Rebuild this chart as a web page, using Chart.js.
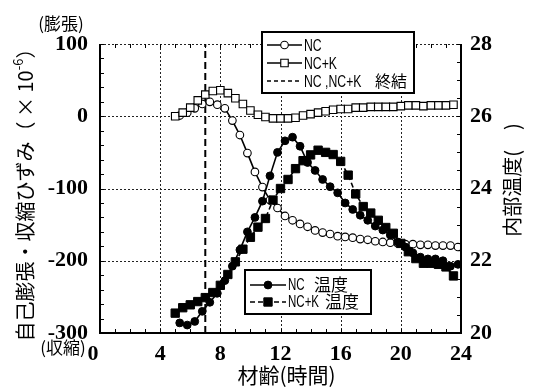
<!DOCTYPE html>
<html>
<head>
<meta charset="utf-8">
<script src="https://cdn.jsdelivr.net/npm/chart.js@4.4.1/dist/chart.umd.min.js"></script>
<style>
  html, body { margin: 0; padding: 0; background: #fff; }
  canvas { display: block; }
</style>
</head>
<body>
<canvas id="c" width="533" height="389"></canvas>
<script>
// Measurement times (hours) for each specimen
const ncTimes  = [5.3, 5.8, 6.3, 6.8, 7.3, 7.8, 8.3, 8.8, 9.3, 9.8, 10.3, 10.8, 11.3, 11.8, 12.3, 12.8,
                  13.3, 13.8, 14.3, 14.8, 15.3, 15.8, 16.3, 16.8, 17.3, 17.8, 18.3, 18.8, 19.3, 19.8,
                  20.3, 20.8, 21.3, 21.8, 22.3, 22.8, 23.3, 23.8];
const nckTimes = [5.0, 5.5, 6.0, 6.5, 7.0, 7.5, 8.0, 8.5, 9.0, 9.5, 10.0, 10.5, 11.0, 11.5, 12.0, 12.5,
                  13.0, 13.5, 14.0, 14.5, 15.0, 15.5, 16.0, 16.5, 17.0, 17.5, 18.0, 18.5, 19.0, 19.5,
                  20.0, 20.5, 21.0, 21.5, 22.0, 22.5, 23.0, 23.5];

// Autogenous expansion / shrinkage strain (x10^-6)
const ncStrain  = [1, 5, 11, 17, 20, 16, 11, -6, -26, -51, -77, -98, -116, -127, -138, -144,
                   -149, -153, -158, -161, -163, -166, -167, -168, -170, -171, -173, -174, -175, -176,
                   -177, -177, -178, -178, -179, -179, -179, -181];
const nckStrain = [0, 5, 12, 22, 30, 35, 36, 32, 25, 17, 8, 2, -1, -3, -3, -3,
                   -2, 1, 3, 5, 7, 9, 10, 10, 12, 12, 13, 13, 13, 13,
                   14, 15, 15, 14, 15, 15, 15, 16];

// Internal temperature (deg C)
const ncTemp  = [20.28, 20.22, 20.32, 20.60, 20.85, 21.10, 21.45, 21.85, 22.30, 22.80, 23.20, 23.65,
                 24.35, 25.00, 25.32, 25.42, 25.17, 24.72, 24.50, 24.25, 24.05, 23.88, 23.60, 23.42,
                 23.26, 23.12, 22.96, 22.85, 22.71, 22.52, 22.38, 22.22, 22.10, 22.05, 22.05, 22.00,
                 21.85, 21.90];
const nckTemp = [20.55, 20.70, 20.78, 20.87, 20.98, 21.12, 21.32, 21.62, 21.97, 22.32, 22.65, 22.93,
                 23.17, 23.68, 24.00, 24.25, 24.55, 24.77, 24.93, 25.06, 25.00, 24.94, 24.75, 24.37,
                 23.85, 23.50, 23.32, 23.12, 22.92, 22.76, 22.48, 22.25, 22.06, 21.93, 21.93, 21.90,
                 21.83, 21.58];

// End of setting (hours)
const settingEnd = [7];

// Axis ranges and labels
const xTickLabels   = [0, 4, 8, 12, 16, 20, 24];
const strainTicks   = [100, 0, -100, -200, -300];
const tempTicks     = [28, 26, 24, 22, 20];
const xGridValues   = [4, 8, 12, 16, 20];
const strainGridValues = [100, 0, -100, -200];

const FONT_NUM = '"Liberation Serif", "Times New Roman", serif';
const FONT_CJK = '"Noto Sans CJK JP", "Noto Sans", sans-serif';
const FONT_LEG = '"Liberation Sans", "Noto Sans CJK JP", sans-serif';

const toPoints = (xs, ys) => xs.map((t, i) => ({ x: t, y: ys[i] }));

const markerNC      = { pointStyle: 'circle', radius: 3.8, rotation: 0, borderWidth: 1.1 };
const markerNCK     = { pointStyle: 'rect',   radius: 5.3, rotation: 0, borderWidth: 1.1 };
const markerNCTemp  = { pointStyle: 'circle', radius: 3.9, rotation: 0, borderWidth: 1 };
const markerNCKTemp = { pointStyle: 'rect',   radius: 5.9, rotation: 0, borderWidth: 1 };

function sample(ctx, x1, x2, y, dash, marker, fill) {
  ctx.save();
  ctx.strokeStyle = '#000';
  ctx.lineWidth = 1.5;
  ctx.setLineDash(dash);
  ctx.beginPath();
  ctx.moveTo(x1, y);
  ctx.lineTo(x2, y);
  ctx.stroke();
  ctx.setLineDash([]);
  if (marker) {
    ctx.fillStyle = fill;
    ctx.lineWidth = marker.borderWidth;
    Chart.helpers.drawPoint(ctx, marker, (x1 + x2) / 2, y);
  }
  ctx.restore();
}

function box(ctx, x1, y1, x2, y2) {
  ctx.save();
  ctx.fillStyle = '#fff';
  ctx.fillRect(x1, y1, x2 - x1, y2 - y1);
  ctx.strokeStyle = '#000';
  ctx.lineWidth = 2;
  ctx.setLineDash([]);
  ctx.strokeRect(x1, y1, x2 - x1, y2 - y1);
  ctx.restore();
}

// condensed latin text for the legends
function narrowText(ctx, txt, x, y, sx) {
  ctx.save();
  ctx.translate(x, y);
  ctx.scale(sx, 1);
  ctx.textAlign = 'left';
  ctx.fillText(txt, 0, 0);
  ctx.restore();
}

const decor = {
  id: 'decor',
  beforeDatasetsDraw(chart) {
    const { ctx, chartArea: a, scales: { x, y } } = chart;
    ctx.save();
    ctx.strokeStyle = '#222';
    ctx.lineWidth = 1;
    ctx.setLineDash([2, 2]);
    ctx.beginPath();
    for (const v of xGridValues) {
      const px = Math.round(x.getPixelForValue(v)) + 0.5;
      ctx.moveTo(px, a.top);
      ctx.lineTo(px, a.bottom);
    }
    for (const v of strainGridValues) {
      const py = Math.round(y.getPixelForValue(v)) + 0.5;
      ctx.moveTo(a.left, py);
      ctx.lineTo(a.right, py);
    }
    ctx.stroke();
    ctx.restore();
  },
  afterDatasetsDraw(chart) {
    const { ctx, chartArea: a, scales: { x, y, y2 } } = chart;
    ctx.save();
    ctx.setLineDash([]);
    ctx.strokeStyle = '#000';

    // inward minor ticks
    ctx.lineWidth = 1;
    ctx.beginPath();
    for (let h = x.min; h <= x.max; h += 1) {
      const px = Math.round(x.getPixelForValue(h)) + 0.5;
      ctx.moveTo(px, a.bottom); ctx.lineTo(px, a.bottom - 4);
      ctx.moveTo(px, a.top);    ctx.lineTo(px, a.top + 4);
    }
    for (let v = y.min; v <= y.max; v += 20) {
      const py = Math.round(y.getPixelForValue(v)) + 0.5;
      ctx.moveTo(a.left, py); ctx.lineTo(a.left + 4, py);
    }
    for (let v = y2.min; v <= y2.max; v += 0.5) {
      const py = Math.round(y2.getPixelForValue(v)) + 0.5;
      ctx.moveTo(a.right, py); ctx.lineTo(a.right - 4, py);
    }
    ctx.stroke();

    // axis frame (left, bottom, right)
    ctx.lineWidth = 2;
    ctx.beginPath();
    ctx.moveTo(a.left, a.top);
    ctx.lineTo(a.left, a.bottom);
    ctx.lineTo(a.right, a.bottom);
    ctx.lineTo(a.right, a.top);
    ctx.stroke();

    // x tick labels
    ctx.fillStyle = '#000';
    ctx.font = 'bold 22px ' + FONT_NUM;
    ctx.textAlign = 'center';
    ctx.textBaseline = 'middle';
    for (const v of xTickLabels) {
      const px = x.getPixelForValue(v) - (v === x.min ? 7 : 0);
      ctx.fillText(String(v), px, a.bottom + 21);
    }

    // axis titles
    ctx.font = '21px ' + FONT_CJK;
    ctx.fillText('材齢(時間)', (a.left + a.right) / 2 + 6, a.bottom + 42);

    // left title with superscript exponent
    ctx.save();
    ctx.translate(25, 190);
    ctx.rotate(-Math.PI / 2);
    const mainTxt = '自己膨張・収縮ひずみ（ × 10';
    const supTxt = '-6';
    const endTxt = '）';
    ctx.font = '20px ' + FONT_CJK;
    const w1 = ctx.measureText(mainTxt).width;
    const w3 = ctx.measureText(endTxt).width;
    ctx.font = '13px ' + FONT_CJK;
    const w2 = ctx.measureText(supTxt).width;
    const sx = -(w1 + w2 + w3) / 2;
    ctx.textAlign = 'left';
    ctx.font = '20px ' + FONT_CJK;
    ctx.fillText(mainTxt, sx, 0);
    ctx.font = '13px ' + FONT_CJK;
    ctx.fillText(supTxt, sx + w1, -7);
    ctx.font = '20px ' + FONT_CJK;
    ctx.fillText(endTxt, sx + w1 + w2, 0);
    ctx.restore();

    // right title
    ctx.save();
    ctx.translate(512, 180);
    ctx.rotate(-Math.PI / 2);
    ctx.font = '20px ' + FONT_CJK;
    ctx.textAlign = 'center';
    ctx.fillText('内部温度(　)', 0, 0);
    ctx.restore();

    // expansion / shrinkage notes
    ctx.font = '17px ' + FONT_CJK;
    ctx.textAlign = 'center';
    ctx.fillText('(膨張)', 61, 24);
    ctx.fillText('(収縮)', 63, 348);

    // strain legend
    box(ctx, 262, 32, 414, 93);
    sample(ctx, 267, 302, 45, [], markerNC, '#fff');
    sample(ctx, 267, 302, 63, [], markerNCK, '#fff');
    sample(ctx, 267, 302, 81, [4, 3], null);
    ctx.fillStyle = '#000';
    ctx.font = '17px ' + FONT_LEG;
    narrowText(ctx, 'NC', 304, 46, 0.72);
    narrowText(ctx, 'NC+K', 304, 64, 0.72);
    narrowText(ctx, 'NC ,NC+K', 304, 82, 0.72);
    ctx.font = '16px ' + FONT_CJK;
    ctx.textAlign = 'left';
    ctx.fillText('終結', 375, 81);

    // temperature legend
    box(ctx, 245, 270, 371, 314);
    sample(ctx, 250, 286, 285, [], markerNCTemp, '#000');
    sample(ctx, 250, 286, 302, [5, 3], markerNCKTemp, '#000');
    ctx.fillStyle = '#000';
    ctx.font = '16px ' + FONT_LEG;
    narrowText(ctx, 'NC', 288, 286, 0.72);
    narrowText(ctx, 'NC+K', 288, 303, 0.72);
    ctx.font = '17px ' + FONT_CJK;
    ctx.textAlign = 'left';
    ctx.fillText('温度', 314, 285);
    ctx.fillText('温度', 325, 302);

    ctx.restore();
  }
};

new Chart(document.getElementById('c'), {
  type: 'line',
  data: {
    datasets: [
      {
        label: 'NC',
        data: toPoints(ncTimes, ncStrain),
        yAxisID: 'y',
        borderColor: '#000', borderWidth: 1.6,
        pointStyle: 'circle', pointRadius: markerNC.radius,
        pointBackgroundColor: '#fff', pointBorderColor: '#000', pointBorderWidth: markerNC.borderWidth,
        order: 3
      },
      {
        label: 'NC+K',
        data: toPoints(nckTimes, nckStrain),
        yAxisID: 'y',
        borderColor: '#000', borderWidth: 1.6,
        pointStyle: 'rect', pointRadius: markerNCK.radius,
        pointBackgroundColor: '#fff', pointBorderColor: '#000', pointBorderWidth: markerNCK.borderWidth,
        order: 2
      },
      {
        label: 'NC 温度',
        data: toPoints(ncTimes, ncTemp),
        yAxisID: 'y2',
        borderColor: '#000', borderWidth: 1.6,
        pointStyle: 'circle', pointRadius: markerNCTemp.radius,
        pointBackgroundColor: '#000', pointBorderColor: '#000', pointBorderWidth: markerNCTemp.borderWidth,
        order: 1
      },
      {
        label: 'NC+K 温度',
        data: toPoints(nckTimes, nckTemp),
        yAxisID: 'y2',
        borderColor: '#000', borderWidth: 1.6, borderDash: [5, 3],
        pointStyle: 'rect', pointRadius: markerNCKTemp.radius,
        pointBackgroundColor: '#000', pointBorderColor: '#000', pointBorderWidth: markerNCKTemp.borderWidth,
        order: 0
      },
      {
        label: 'NC,NC+K 終結',
        data: [
          { x: settingEnd[0], y: strainTicks[strainTicks.length - 1] },
          { x: settingEnd[0], y: strainTicks[0] }
        ],
        yAxisID: 'y',
        borderColor: '#000', borderWidth: 2, borderDash: [7, 4],
        pointRadius: 0,
        order: 5
      }
    ]
  },
  options: {
    responsive: false,
    animation: false,
    events: [],
    layout: { padding: { top: 44, left: 0, right: 0, bottom: 0 } },
    plugins: { legend: { display: false }, tooltip: { enabled: false } },
    scales: {
      x: {
        type: 'linear', position: 'bottom',
        min: xTickLabels[0], max: xTickLabels[xTickLabels.length - 1],
        ticks: { display: false, stepSize: 4 },
        grid: { display: false, drawTicks: false },
        border: { display: false },
        afterFit(s) { s.height = 56; }
      },
      y: {
        type: 'linear', position: 'left',
        min: strainTicks[strainTicks.length - 1], max: strainTicks[0],
        ticks: {
          stepSize: 100, padding: 12, color: '#000',
          font: { family: FONT_NUM, weight: 'bold', size: 22 }
        },
        grid: { display: false, drawTicks: false },
        border: { display: false },
        afterFit(s) { s.width = 100; }
      },
      y2: {
        type: 'linear', position: 'right',
        min: tempTicks[tempTicks.length - 1], max: tempTicks[0],
        ticks: {
          stepSize: 2, padding: 9, color: '#000',
          font: { family: FONT_NUM, weight: 'bold', size: 22 }
        },
        grid: { display: false, drawTicks: false },
        border: { display: false },
        afterFit(s) { s.width = 72; }
      }
    }
  },
  plugins: [decor]
});
</script>
</body>
</html>
